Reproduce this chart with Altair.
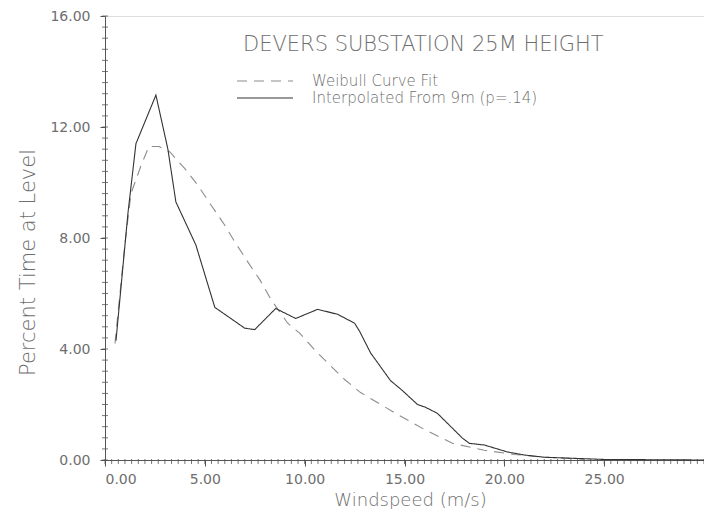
import altair as alt
import pandas as pd

# ---- data ----
weibull_x = [0.5, 1.0, 1.3, 1.8, 2.2, 2.7, 3.25, 4.0, 4.65, 5.3, 6.0, 6.5, 7.15, 7.75,
             8.3, 9.15, 9.75, 10.55, 12.0, 12.8, 13.9, 14.9, 16.0, 17.4, 19.0, 20.5, 22.0, 24.0]
weibull_y = [4.2, 7.8, 9.6, 10.6, 11.3, 11.3, 11.1, 10.5, 9.9, 9.2, 8.46, 7.86, 7.14, 6.5,
             5.8, 4.93, 4.57, 3.93, 2.9, 2.43, 1.96, 1.54, 1.1, 0.6, 0.35, 0.2, 0.1, 0.03]

interp_x = [0.55, 1.15, 1.55, 2.55, 3.15, 3.55, 4.55, 5.5, 7.0, 7.5, 8.55, 9.55, 10.65, 11.65,
            12.5, 12.75, 13.3, 14.3, 14.9, 15.65, 16.05, 16.65, 17.9, 18.25, 19.0, 20.15,
            21.0, 22.0, 25.0, 30.0]
interp_y = [4.3, 8.9, 11.4, 13.15, 11.2, 9.3, 7.75, 5.5, 4.75, 4.7, 5.46, 5.1, 5.43, 5.25,
            4.93, 4.64, 3.86, 2.86, 2.5, 2.0, 1.9, 1.68, 0.79, 0.6, 0.54, 0.29,
            0.18, 0.1, 0.02, 0.0]

series_names = ["Weibull Curve Fit", "Interpolated From 9m (p=.14)"]
title_text = "DEVERS SUBSTATION 25M HEIGHT"

y_major = [0, 4, 8, 12, 16]
x_major = [0, 5, 10, 15, 20, 25, 30]
y_minor = [round(i * 0.4, 2) for i in range(41)]
x_minor = [round(i / 3, 3) for i in range(91)]

df = pd.concat([
    pd.DataFrame({"speed": weibull_x, "pct": weibull_y, "series": series_names[0]}),
    pd.DataFrame({"speed": interp_x, "pct": interp_y, "series": series_names[1]}),
])

FONT = "DejaVu Sans"
TXT = "#6e6e6e"
AX = "#555555"
W, H = 599, 444
COLORS = ["#8c8c8c", "#333333"]
DASHES = [[10, 7], [1, 0]]

xscale = alt.Scale(domain=[0, 30], nice=False)
yscale = alt.Scale(domain=[0, 16], nice=False)

lines = alt.Chart(df).mark_line(strokeWidth=1.1).encode(
    x=alt.X("speed:Q", scale=xscale,
            axis=alt.Axis(values=x_major, format=".2f",
                          labelExpr="datum.value <= 25 ? format(datum.value, '.2f') : ''",
                          title="Windspeed (m/s)", titleX=305, titleY=40,
                          titleBaseline="middle", titleAlign="center",
                          titleFontSize=18, titleFontWeight=200, titleFont=FONT,
                          titleColor=TXT, labelFont=FONT, labelFontSize=14,
                          labelColor=TXT, labelPadding=6, tickSize=6,
                          tickColor=AX, domainColor=AX, grid=False)),
    y=alt.Y("pct:Q", scale=yscale,
            axis=alt.Axis(values=y_major, format=".2f",
                          title="Percent Time at Level", titleAngle=-90,
                          titleX=-77, titleY=246, titleAlign="center",
                          titleBaseline="middle", titleFontSize=21,
                          titleFontWeight=200, titleFont=FONT, titleColor=TXT,
                          labelFont=FONT, labelFontSize=14, labelColor=TXT,
                          labelPadding=10, tickSize=5, tickColor=AX,
                          domainColor=AX, grid=False)),
    color=alt.Color("series:N",
                    scale=alt.Scale(domain=series_names, range=COLORS), legend=None),
    strokeDash=alt.StrokeDash("series:N",
                              scale=alt.Scale(domain=series_names, range=DASHES), legend=None),
)

ytick_df = pd.DataFrame({"v": y_minor})
xtick_df = pd.DataFrame({"v": x_minor})

yminor = alt.Chart(ytick_df).mark_rule(color=AX, strokeWidth=0.8).encode(
    y=alt.Y("v:Q", scale=yscale), x=alt.value(-3), x2=alt.value(3))
xminor = alt.Chart(xtick_df).mark_rule(color=AX, strokeWidth=0.8).encode(
    x=alt.X("v:Q", scale=xscale), y=alt.value(H - 1), y2=alt.value(H + 4))

title = alt.Chart(pd.DataFrame({"t": [title_text]})).mark_text(
    align="left", baseline="middle", font=FONT, fontSize=21, fontWeight=200,
    color=TXT).encode(text="t:N", x=alt.value(138), y=alt.value(29))

# manual legend (keys + labels)
leg_layers = []
for i, name in enumerate(series_names):
    ly = 65 + 17 * i
    leg_layers.append(
        alt.Chart(pd.DataFrame({"s": [name]})).mark_rule(
            color=COLORS[i], strokeDash=DASHES[i], strokeWidth=1.2
        ).encode(x=alt.value(132), x2=alt.value(188), y=alt.value(ly))
    )
    leg_layers.append(
        alt.Chart(pd.DataFrame({"s": [name]})).mark_text(
            align="left", baseline="middle", font=FONT, fontSize=15,
            fontWeight=200, color=TXT
        ).encode(text="s:N", x=alt.value(207), y=alt.value(ly))
    )

chart = alt.layer(yminor, xminor, lines, title, *leg_layers).properties(
    width=W, height=H,
    autosize=alt.AutoSizeParams(type="none"),
    padding={"left": 97, "top": 8, "right": 0, "bottom": 49},
).configure_view(stroke=None).configure(background="white")

chart.save("out.html", embed_options={"renderer": "svg", "actions": False})
